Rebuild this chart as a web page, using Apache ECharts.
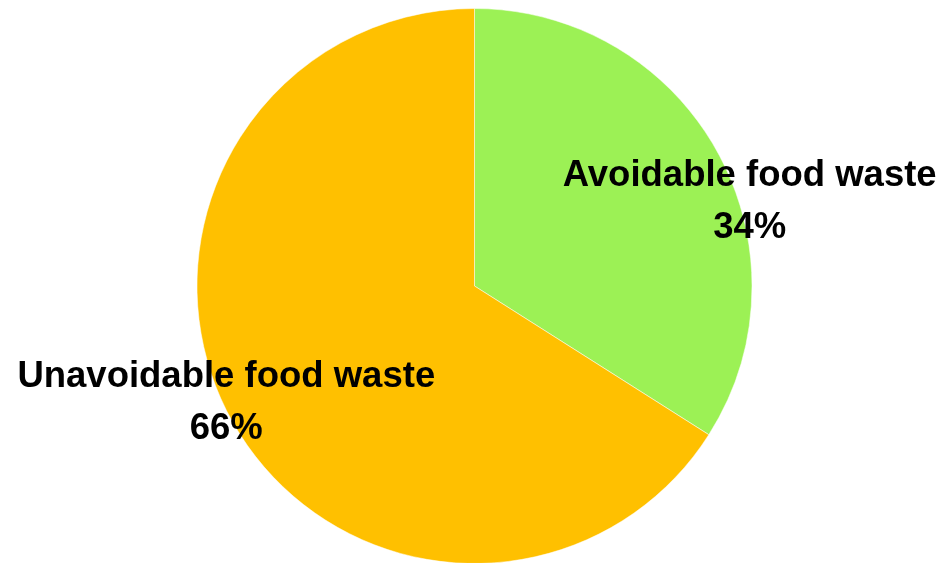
<!DOCTYPE html>
<html><head><meta charset="utf-8">
<script src="https://cdn.jsdelivr.net/npm/echarts@6/dist/echarts.min.js"></script>
<style>html,body{margin:0;padding:0;background:#fff}#c{width:940px;height:563px}</style>
</head><body><div id="c"></div>
<script>
const categories = ['Avoidable food waste', 'Unavoidable food waste'];
const values = [34, 66];
const colors = ['#9CF155', '#FFC000'];
const labelOffsets = [[151, -16], [-124, 49]];

const chart = echarts.init(document.getElementById('c'), null, {renderer: 'canvas'});
chart.setOption({
  animation: false,
  series: [{
    type: 'pie',
    center: [474.5, 286],
    radius: 277.5,
    startAngle: 90,
    clockwise: true,
    percentPrecision: 0,
    itemStyle: {borderColor: '#ffffff', borderWidth: 0.5},
    label: {
      show: true,
      position: 'inside',
      formatter: '{b}\n{d}%',
      fontFamily: 'Liberation Sans, Arial, sans-serif',
      fontWeight: 'bold',
      fontSize: 36.5,
      lineHeight: 52,
      color: '#000',
      align: 'center'
    },
    labelLine: {show: false},
    data: categories.map((c, i) => ({
      name: c, value: values[i],
      itemStyle: {color: colors[i]},
      label: {offset: labelOffsets[i]}
    }))
  }]
});
</script></body></html>
